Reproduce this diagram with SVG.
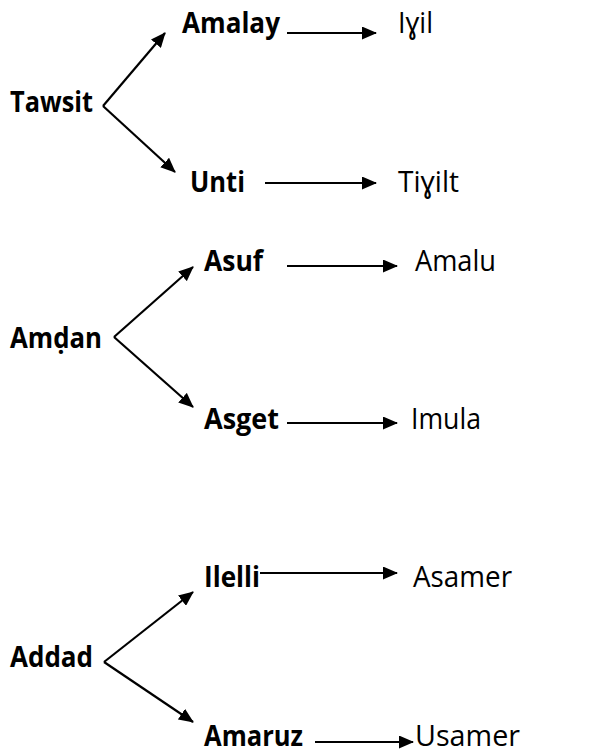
<svg xmlns="http://www.w3.org/2000/svg" width="611" height="752" viewBox="0 0 611 752">
<defs>
<marker id="ah" markerUnits="userSpaceOnUse" markerWidth="15" markerHeight="13" refX="14" refY="6.5" orient="auto"><path d="M0,0 L15,6.5 L0,13 Z" fill="#000"/></marker>
<style>
.b{font-family:"Open Sans","Noto Sans",sans-serif;font-weight:bold;font-size:29px;fill:#000}
.r{font-family:"Open Sans","Noto Sans",sans-serif;font-size:29px;fill:#000}
.a{stroke:#000;stroke-width:2.2;fill:none;marker-end:url(#ah)}
</style>
</defs>
<rect width="611" height="752" fill="#fff"/>
<g id="connectors">
<line class="a" x1="103" y1="106" x2="165" y2="33"/>
<line class="a" x1="103" y1="106" x2="175" y2="172"/>
<line class="a" x1="287" y1="33" x2="376" y2="33"/>
<line class="a" x1="265" y1="183" x2="376" y2="183"/>
<line class="a" x1="114" y1="337" x2="193" y2="267"/>
<line class="a" x1="114" y1="337" x2="193" y2="407"/>
<line class="a" x1="287" y1="266" x2="397" y2="266"/>
<line class="a" x1="287" y1="423" x2="397" y2="423"/>
<line class="a" x1="104" y1="662" x2="193" y2="592"/>
<line class="a" x1="104" y1="662" x2="193" y2="722"/>
<line class="a" x1="260" y1="573" x2="397" y2="573"/>
<line class="a" x1="315" y1="742" x2="413" y2="742"/>
</g>
<g id="n-tawsit"><text class="b" x="10" y="112" textLength="83" lengthAdjust="spacingAndGlyphs">Tawsit</text></g>
<g id="n-amalay"><text class="b" x="182" y="33" textLength="98" lengthAdjust="spacingAndGlyphs">Amalay</text></g>
<g id="n-iyil"><text class="r" x="398" y="33" textLength="35" lengthAdjust="spacingAndGlyphs">Iɣil</text></g>
<g id="n-unti"><text class="b" x="190" y="192" textLength="55" lengthAdjust="spacingAndGlyphs">Unti</text></g>
<g id="n-tiyilt"><text class="r" x="398" y="192" textLength="61" lengthAdjust="spacingAndGlyphs">Tiɣilt</text></g>
<g id="n-amdan"><text class="b" x="10" y="348" textLength="92" lengthAdjust="spacingAndGlyphs">Amḍan</text></g>
<g id="n-asuf"><text class="b" x="204" y="271" textLength="59" lengthAdjust="spacingAndGlyphs">Asuf</text></g>
<g id="n-amalu"><text class="r" x="415" y="271" textLength="81" lengthAdjust="spacingAndGlyphs">Amalu</text></g>
<g id="n-asget"><text class="b" x="204" y="429" textLength="75" lengthAdjust="spacingAndGlyphs">Asget</text></g>
<g id="n-imula"><text class="r" x="411" y="429" textLength="70" lengthAdjust="spacingAndGlyphs">Imula</text></g>
<g id="n-ilelli"><text class="b" x="204" y="587" textLength="56" lengthAdjust="spacingAndGlyphs">Ilelli</text></g>
<g id="n-asamer"><text class="r" x="413" y="587" textLength="99" lengthAdjust="spacingAndGlyphs">Asamer</text></g>
<g id="n-addad"><text class="b" x="10" y="667" textLength="83" lengthAdjust="spacingAndGlyphs">Addad</text></g>
<g id="n-amaruz"><text class="b" x="204" y="746" textLength="99" lengthAdjust="spacingAndGlyphs">Amaruz</text></g>
<g id="n-usamer"><text class="r" x="415" y="746" textLength="105" lengthAdjust="spacingAndGlyphs">Usamer</text></g>
</svg>
